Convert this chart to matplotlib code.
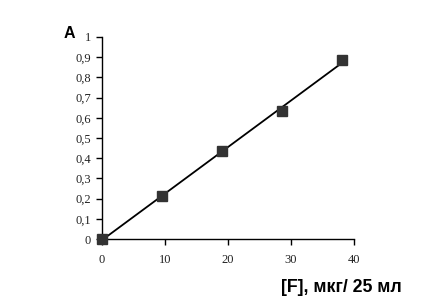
import numpy as np
from matplotlib import pyplot as plt
from matplotlib.ticker import FuncFormatter

# concentration of F, ug / 25 ml, and absorbance
conc = [0, 9.6, 19.1, 28.6, 38.1]
absorb = [0.0, 0.213, 0.436, 0.634, 0.885]

x_ticks = [0, 10, 20, 30, 40]
y_ticks = np.round(np.arange(0, 1.01, 0.1), 1)


def comma_fmt(v, pos):
    if abs(v - round(v)) < 1e-9:
        return str(int(round(v)))
    return f"{v:.1f}".replace('.', ',')


fig = plt.figure(figsize=(4.39, 3.08), dpi=100)
ax = fig.add_axes([0.2323, 0.224, 0.5737, 0.656])

# linear trend line
slope, intercept = np.polyfit(conc, absorb, 1)
xs = np.array([conc[0], conc[-1]])
ax.plot(xs, slope * xs + intercept, color='black', lw=1.3, clip_on=False)
ax.plot(conc, absorb, 's', color='#333333', ms=6.5, clip_on=False, zorder=3)

ax.set_xlim(0, 40)
ax.set_ylim(0, 1)
ax.set_xticks(x_ticks)
ax.set_yticks(y_ticks)
ax.yaxis.set_major_formatter(FuncFormatter(comma_fmt))
ax.xaxis.set_major_formatter(FuncFormatter(comma_fmt))

for side in ('top', 'right'):
    ax.spines[side].set_visible(False)
for side in ('left', 'bottom'):
    ax.spines[side].set_linewidth(1.0)
ax.tick_params(direction='out', length=4, width=1.0, pad=4,
               labelsize=9, labelcolor='#222222')
for lbl in ax.get_xticklabels() + ax.get_yticklabels():
    lbl.set_family('Liberation Serif')
ax.tick_params(axis='x', pad=7)

fig.text(69 / 439, 1 - 33 / 308, 'A', fontsize=11.5, fontweight='bold',
         family='Liberation Sans', ha='center', va='center')
fig.text(341 / 439, 1 - 287 / 308, '[F], мкг/ 25 мл', fontsize=12.8,
         fontweight='bold', family='Liberation Sans', ha='center', va='center')

fig.savefig('out.png', dpi=100)
